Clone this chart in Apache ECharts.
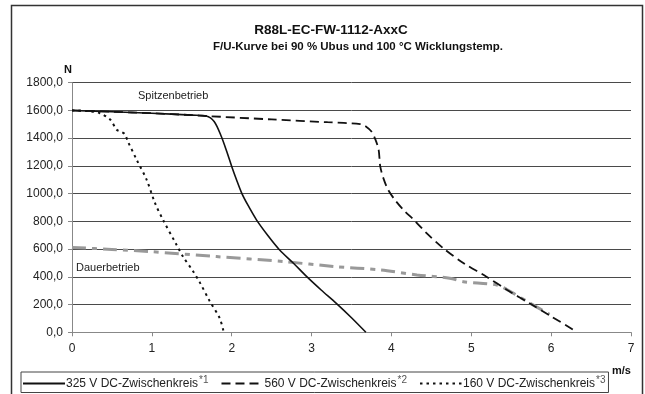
<!DOCTYPE html>
<html><head><meta charset="utf-8">
<script src="https://cdn.jsdelivr.net/npm/echarts@6/dist/echarts.min.js"></script>
<style>html,body{margin:0;padding:0;background:#fff}#c{width:645px;height:394px}</style>
</head><body><div id="c"></div>
<script>
const titleText = 'R88L-EC-FW-1112-AxxC';
const subtitleText = 'F/U-Kurve bei 90 % Ubus und 100 °C Wicklungstemp.';
const seriesNames = ['325 V DC-Zwischenkreis', '560 V DC-Zwischenkreis', '160 V DC-Zwischenkreis'];
const seriesSup = ['*1', '*2', '*3'];
const xTicks = [0, 1, 2, 3, 4, 5, 6, 7];
const yTicks = [0, 200, 400, 600, 800, 1000, 1200, 1400, 1600, 1800];

const v325 = [[0,1600],[0.5,1590],[1.0,1580],[1.5,1566],[1.68,1560],[1.78,1520],[1.87,1412],[1.94,1300],[2.0,1196],[2.06,1100],[2.125,1004],[2.2,920],[2.31,811],[2.45,700],[2.6,594],[2.77,500],[2.94,401],[3.12,305],[3.31,209],[3.5,105],[3.68,0]];
const v560 = [[0,1600],[0.5,1590],[1.0,1580],[1.5,1566],[1.68,1560],[2.5,1535],[3.2,1515],[3.61,1502],[3.68,1485],[3.75,1448],[3.8,1390],[3.84,1316],[3.86,1196],[3.9,1110],[3.96,1027],[4.05,950],[4.15,883],[4.3,800],[4.44,715],[4.65,606],[4.9,500],[5.19,401],[5.45,305],[5.73,209],[6.0,115],[6.28,17],[6.32,0]];
const v160 = [[0,1600],[0.2,1595],[0.35,1580],[0.48,1533],[0.56,1461],[0.62,1445],[0.66,1430],[0.7,1376],[0.81,1244],[0.935,1100],[1.04,931],[1.14,811],[1.31,630],[1.39,546],[1.52,437],[1.6,360],[1.72,230],[1.85,101],[1.9,0]];
const dauer = [[0,612],[0.5,598],[0.98,582],[1.81,546],[2.65,510],[3.29,474],[3.86,450],[4.32,414],[4.73,390],[4.9,365],[5.32,341],[5.5,290],[5.75,205],[5.98,130]];
const labelSpitzen = 'Spitzenbetrieb';
const labelDauer = 'Dauerbetrieb';

const chart = echarts.init(document.getElementById('c'), null, {renderer: 'canvas'});
const font = 'Liberation Sans, Arial, sans-serif';
const supRich = {sup: {fontSize: 10, fontFamily: font, color: '#555', verticalAlign: 'top', padding: [0, 0, 7, 1]}};
chart.setOption({
  animation: false,
  backgroundColor: '#fff',
  textStyle: {fontFamily: font},
  grid: {left: 72, right: 14, top: 82.7, bottom: 61.7, containLabel: false},
  xAxis: {
    type: 'value', min: xTicks[0], max: xTicks[xTicks.length - 1], interval: 1,
    axisLine: {show: true, lineStyle: {color: '#888', width: 1}},
    axisTick: {show: true, length: 4, lineStyle: {color: '#888'}},
    axisLabel: {fontSize: 12, color: '#222', margin: 10, fontFamily: font},
    splitLine: {show: false}
  },
  yAxis: {
    type: 'value', min: yTicks[0], max: yTicks[yTicks.length - 1], interval: 200,
    axisLine: {show: true, lineStyle: {color: '#888', width: 1}},
    axisTick: {show: true, length: 4, lineStyle: {color: '#888'}},
    axisLabel: {fontSize: 12, color: '#222', margin: 9, fontFamily: font,
      formatter: v => v.toFixed(1).replace('.', ',')},
    splitLine: {show: true, lineStyle: {color: '#4a4a4a', width: 1}}
  },
  legend: {
    data: seriesNames,
    left: 21, top: 372,
    itemWidth: 42, itemHeight: 10, itemGap: 12,
    padding: [3, 3, 3, 1],
    borderColor: '#444', borderWidth: 1,
    itemStyle: {color: 'rgba(0,0,0,0)', opacity: 0, borderWidth: 0},
    textStyle: {fontSize: 12, color: '#222', fontFamily: font, padding: [0, 0, 0, -4], rich: supRich},
    formatter: name => name + '{sup|' + seriesSup[seriesNames.indexOf(name)] + '}'
  },
  series: [
    {name: seriesNames[0], type: 'line', data: v325, symbol: 'none', smooth: 0.3,
      lineStyle: {color: '#111', width: 1.6, type: 'solid'}, itemStyle: {color: '#111'}, z: 4},
    {name: seriesNames[1], type: 'line', data: v560, symbol: 'none', smooth: 0.3,
      lineStyle: {color: '#111', width: 1.8, type: [9, 5]}, itemStyle: {color: '#111'}, z: 3},
    {name: seriesNames[2], type: 'line', data: v160, symbol: 'none', smooth: 0.3,
      lineStyle: {color: '#111', width: 2, type: [2.5, 4]}, itemStyle: {color: '#111'}, z: 3},
    {name: 'Dauerbetrieb', type: 'line', data: dauer, symbol: 'none', smooth: 0.3,
      lineStyle: {color: '#999', width: 3, type: [14, 6, 5, 6]}, itemStyle: {color: '#999'}, z: 2}
  ],
  graphic: [
    {type: 'rect', shape: {x: 11.5, y: 5.5, width: 631, height: 400}, style: {fill: 'none', stroke: '#333', lineWidth: 1.5}, silent: true, z: -1},
    {type: 'text', x: 331, y: 30, style: {text: titleText, font: 'bold 13.5px ' + font, fill: '#111', textAlign: 'center', textVerticalAlign: 'middle'}},
    {type: 'text', x: 358, y: 47, style: {text: subtitleText, font: 'bold 11.5px ' + font, fill: '#111', textAlign: 'center', textVerticalAlign: 'middle'}},
    {type: 'text', x: 68, y: 70, style: {text: 'N', font: 'bold 11px ' + font, fill: '#111', textAlign: 'center', textVerticalAlign: 'middle'}},
    {type: 'text', x: 612, y: 371, style: {text: 'm/s', font: 'bold 11px ' + font, fill: '#111', textAlign: 'left', textVerticalAlign: 'middle'}},
    {type: 'text', x: 138, y: 96, style: {text: labelSpitzen, font: '11px ' + font, fill: '#222', textAlign: 'left', textVerticalAlign: 'middle'}},
    {type: 'text', x: 76, y: 268, style: {text: labelDauer, font: '11px ' + font, fill: '#222', textAlign: 'left', textVerticalAlign: 'middle'}}
  ]
});
</script>
</body></html>
